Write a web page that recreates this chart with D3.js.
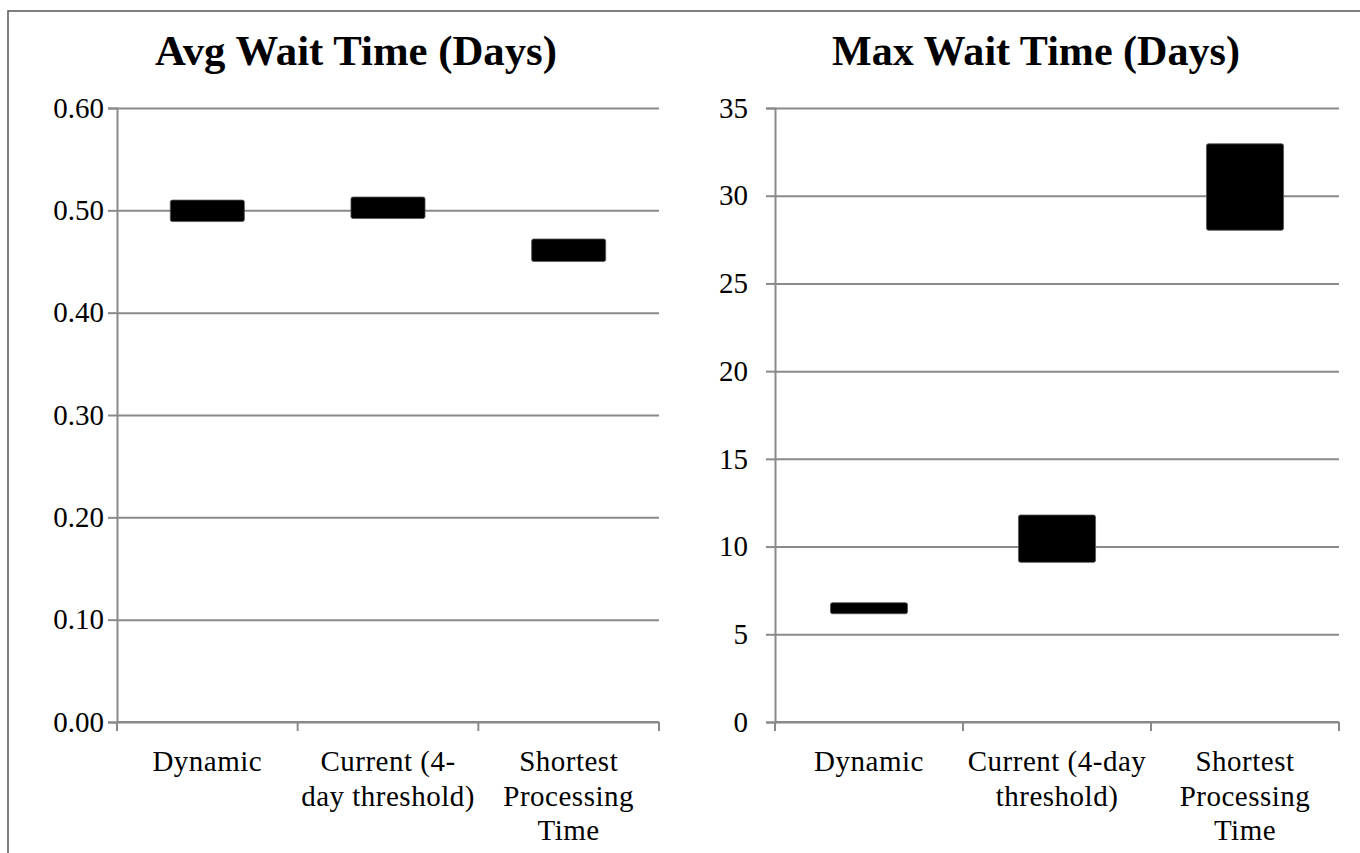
<!DOCTYPE html>
<html>
<head>
<meta charset="utf-8">
<script src="https://cdn.jsdelivr.net/npm/d3@7"></script>
<style>
  html, body { margin: 0; padding: 0; background: #fff; }
  svg { display: block; }
  text { font-family: "Liberation Serif", "DejaVu Serif", serif; fill: #000; }
</style>
</head>
<body>
<svg id="chart" width="1360" height="853"></svg>
<script>
// ---- data ----
const categories = ["Dynamic", "Current (4-day threshold)", "Shortest Processing Time"];
const avgLabelLines = [["Dynamic"], ["Current (4-", "day threshold)"], ["Shortest", "Processing", "Time"]];
const maxLabelLines = [["Dynamic"], ["Current (4-day", "threshold)"], ["Shortest", "Processing", "Time"]];
const avgLow  = [0.489, 0.492, 0.450];
const avgHigh = [0.510, 0.513, 0.472];
const maxLow  = [6.17, 9.10, 28.03];
const maxHigh = [6.80, 11.80, 32.96];
const avgTicks = [0, 0.1, 0.2, 0.3, 0.4, 0.5, 0.6];
const maxTicks = [0, 5, 10, 15, 20, 25, 30, 35];
const titles = ["Avg Wait Time (Days)", "Max Wait Time (Days)"];

const svg = d3.select("#chart");
const gridColor = "#8a8a8a";

// outer frame (top and left edges visible)
svg.append("rect").attr("x", 8).attr("y", 11).attr("width", 1400).attr("height", 900)
  .attr("fill", "none").attr("stroke", "#555").attr("stroke-width", 1.5);

function drawPanel(cfg) {
  const y = d3.scaleLinear().domain(cfg.domain).range([722, 108]);
  const x = d3.scaleBand().domain(categories).range(cfg.xRange)
    .paddingInner(0.59).paddingOuter(0.295);
  const w = cfg.xRange[1] - cfg.xRange[0];
  const g = svg.append("g");

  // title
  const t = g.append("text").attr("x", cfg.titleX).attr("y", 65)
    .attr("text-anchor", "middle").attr("font-weight", "bold")
    .attr("font-size", 40).text(cfg.title);
  const tw = t.node().getComputedTextLength();
  t.attr("font-size", 40 * cfg.titleW / tw);

  // gridlines
  const grid = g.append("g").attr("transform", `translate(${cfg.xRange[0]},0)`)
    .call(d3.axisLeft(y).tickValues(cfg.ticks).tickSize(-w).tickFormat(""));
  grid.select(".domain").remove();
  grid.selectAll("line").attr("stroke", gridColor).attr("stroke-width", 2);

  // y axis with outer ticks and labels
  const ya = g.append("g").attr("transform", `translate(${cfg.xRange[0]},0)`)
    .call(d3.axisLeft(y).tickValues(cfg.ticks).tickSize(9).tickPadding(cfg.labelPad)
      .tickFormat(d3.format(cfg.fmt)));
  ya.select(".domain").attr("stroke", gridColor).attr("stroke-width", 2);
  ya.selectAll("line").attr("stroke", gridColor).attr("stroke-width", 2);
  ya.selectAll("text").attr("font-size", 29).attr("font-family", "Liberation Serif")
    .attr("fill", "#000");

  // x axis line + boundary ticks
  const bounds = d3.range(categories.length + 1).map(i => cfg.xRange[0] + i * x.step() - x.step() * 0);
  g.append("line").attr("x1", cfg.xRange[0]).attr("x2", cfg.xRange[1])
    .attr("y1", y(0)).attr("y2", y(0)).attr("stroke", gridColor).attr("stroke-width", 2);
  g.selectAll(".xt").data(bounds).join("line")
    .attr("x1", d => d).attr("x2", d => d)
    .attr("y1", y(0)).attr("y2", y(0) + 9)
    .attr("stroke", gridColor).attr("stroke-width", 2);

  // category labels
  categories.forEach((c, i) => {
    const cx = x(c) + x.bandwidth() / 2;
    const txt = g.append("text").attr("x", cx).attr("y", 771)
      .attr("text-anchor", "middle").attr("font-size", 29).attr("letter-spacing", 0.5);
    cfg.lines[i].forEach((ln, j) => {
      txt.append("tspan").attr("x", cx).attr("y", 771 + j * 34.5).text(ln);
    });
  });

  // floating bars
  g.selectAll(".bar").data(categories).join("rect")
    .attr("x", d => x(d))
    .attr("width", x.bandwidth())
    .attr("y", (d, i) => y(cfg.high[i]))
    .attr("height", (d, i) => y(cfg.low[i]) - y(cfg.high[i]))
    .attr("rx", 2).attr("fill", "#000").attr("stroke", "#555").attr("stroke-width", 0.8);
}

drawPanel({
  title: titles[0], titleX: 356, titleW: 402,
  domain: [0, 0.6], ticks: avgTicks, fmt: ".2f",
  xRange: [117, 659], labelPad: 4,
  low: avgLow, high: avgHigh, lines: avgLabelLines
});
drawPanel({
  title: titles[1], titleX: 1036, titleW: 408,
  domain: [0, 35], ticks: maxTicks, fmt: "d",
  xRange: [775, 1339], labelPad: 18,
  low: maxLow, high: maxHigh, lines: maxLabelLines
});
</script>
</body>
</html>
